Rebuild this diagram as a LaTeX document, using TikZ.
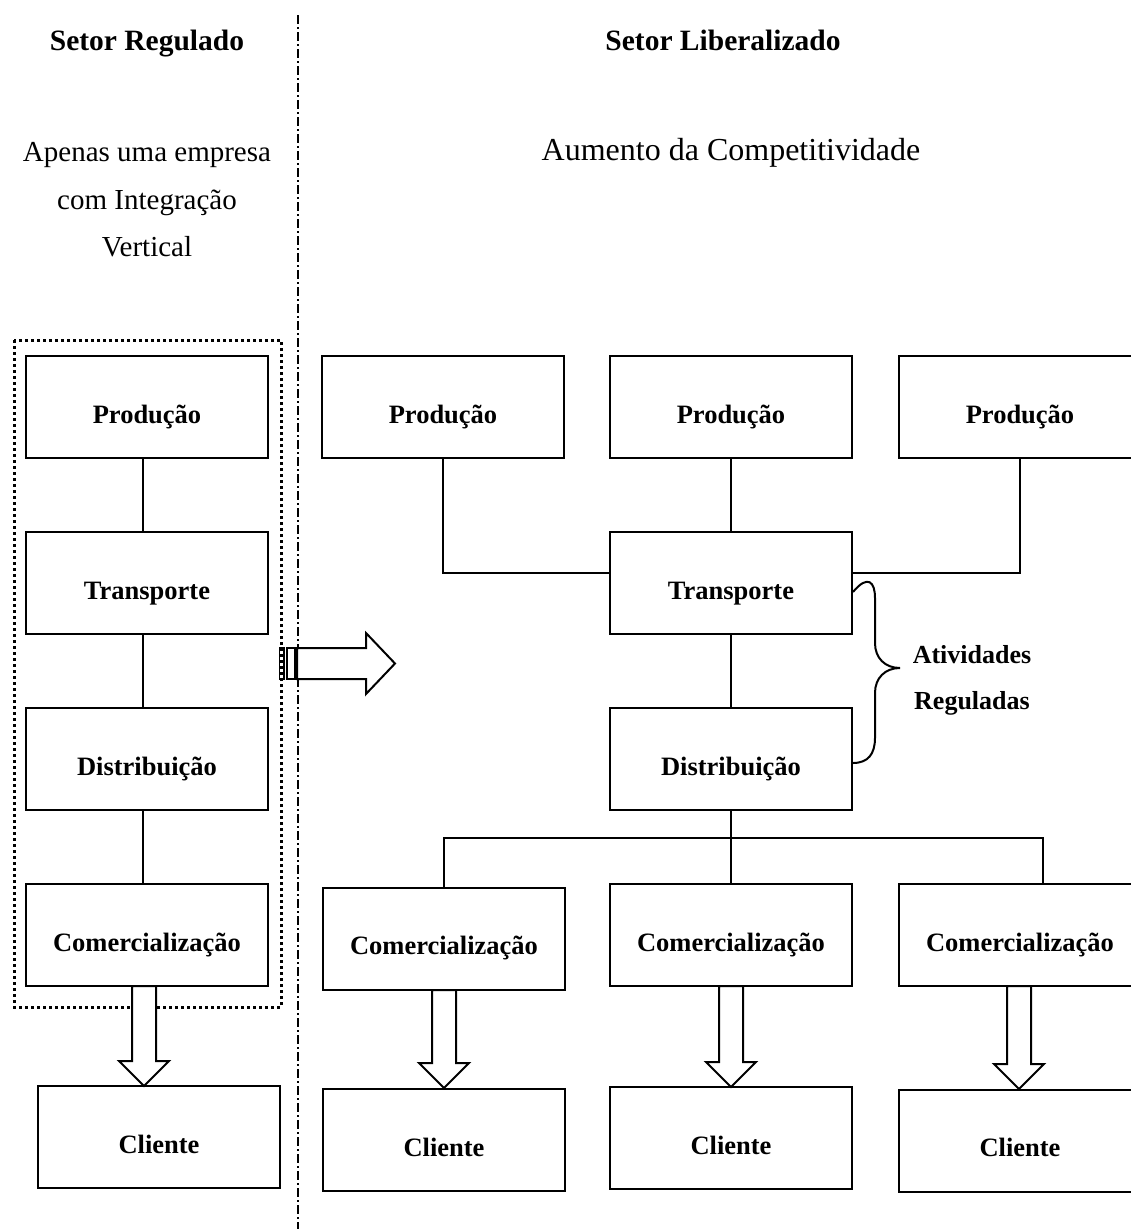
\documentclass[tikz,border=0pt]{standalone}
\usepackage{fontspec}
\setmainfont{Liberation Serif}
\usetikzlibrary{calc}
\newcommand\vblockarrow[3]{% x, ytop, ytip
  \draw[blockline] (#1-12,#2) -- (#1+12,#2) -- (#1+12,#3-25) -- (#1+25,#3-25)
    -- (#1,#3) -- (#1-25,#3-25) -- (#1-12,#3-25) -- cycle;}
\begin{document}
\begin{tikzpicture}[x=1pt,y=-1pt,
  stagebox/.style={draw, line width=2pt, minimum width=242pt, minimum height=102pt,
    inner sep=0pt, font=\fontsize{26.5}{30}\bfseries\selectfont,
    text height=34pt, text depth=2pt},
  heading/.style={font=\fontsize{29.5}{34}\bfseries\selectfont, inner sep=0pt, anchor=base},
  plaintext/.style={font=\fontsize{29}{47.5}\selectfont, align=center, inner sep=0pt},
  bracetext/.style={font=\fontsize{26}{46}\bfseries\selectfont, align=center, inner sep=0pt},
  link/.style={line width=2pt},
  blockline/.style={line width=2pt, fill=white, line join=miter},
]
\useasboundingbox (0,0) rectangle (1131,1229);
\clip (0,0) rectangle (1131,1229);

% divider
\draw[line width=2pt, dash pattern=on 9pt off 3pt on 2pt off 3pt] (298,15) -- (298,1229);

% headings
\node[heading] (hReg) at (147,50) {Setor Regulado};
\node[heading] (hLib) at (723,50) {Setor Liberalizado};
\node[plaintext] (tReg) at (147,200) {Apenas uma empresa\\com Integração\\Vertical};
\node[plaintext, font=\fontsize{32}{40}\selectfont] (tLib) at (731,153) {Aumento da Competitividade};

% dotted frame
\draw[line width=3pt, dash pattern=on 3pt off 3pt] (14,340) rectangle (281,1007);

% left column
\node[stagebox] (prodL) at (147,407) {Produção};
\node[stagebox] (tranL) at (147,583) {Transporte};
\node[stagebox] (distL) at (147,759) {Distribuição};
\node[stagebox] (comL)  at (147,935) {Comercialização};
\node[stagebox] (cliL)  at (159,1137) {Cliente};
\draw[link] ([xshift=-4pt]prodL.south) -- ([xshift=-4pt]tranL.north);
\draw[link] ([xshift=-4pt]tranL.south) -- ([xshift=-4pt]distL.north);
\draw[link] ([xshift=-4pt]distL.south) -- ([xshift=-4pt]comL.north);
\vblockarrow{144}{986}{1086}

% right side
\node[stagebox] (prod1) at (443,407) {Produção};
\node[stagebox] (prod2) at (731,407) {Produção};
\node[stagebox] (prod3) at (1020,407) {Produção};
\node[stagebox] (tran)  at (731,583) {Transporte};
\node[stagebox] (dist)  at (731,759) {Distribuição};
\node[stagebox] (com1)  at (444,938.5) {Comercialização};
\node[stagebox] (com2)  at (731,935) {Comercialização};
\node[stagebox] (com3)  at (1020,935) {Comercialização};
\node[stagebox] (cli1)  at (444,1140) {Cliente};
\node[stagebox] (cli2)  at (731,1138) {Cliente};
\node[stagebox] (cli3)  at (1020,1140.5) {Cliente};

\draw[link] (prod1.south) |- ([yshift=10pt]tran.west);
\draw[link] (prod3.south) |- ([yshift=10pt]tran.east);
\draw[link] (prod2.south) -- (tran.north);
\draw[link] (tran.south) -- (dist.north);
\draw[link] (dist.south) -- (com2.north);
\coordinate (bus) at (731,838);
\draw[link] (com1.north) |- (bus) -| ([xshift=23pt,yshift=-2pt]com3.north);

\vblockarrow{444}{990}{1088}
\vblockarrow{731}{986}{1087}
\vblockarrow{1019}{986}{1089}

% brace
\draw[line width=2pt] ([yshift=-9pt]tran.east)
  .. controls (868,574) and (875,582) .. (875,598)
  -- (875,643) .. controls (875,658) and (885,668) .. (900,668)
  .. controls (885,668) and (875,678) .. (875,693)
  -- (875,738) .. controls (875,754) and (868,763) .. (853,763);
\node[bracetext] (reg) at (972,680) {Atividades\\Reguladas};

% striped arrow
\draw[blockline] (297,648) -- (366,648) -- (366,633) -- (395,663.5) -- (366,694)
  -- (366,679) -- (297,679) -- cycle;
\draw[line width=1.5pt] (287,648) rectangle (295,679);
\draw[line width=1.5pt] (279.5,648) rectangle (284,679);
\end{tikzpicture}
\end{document}
